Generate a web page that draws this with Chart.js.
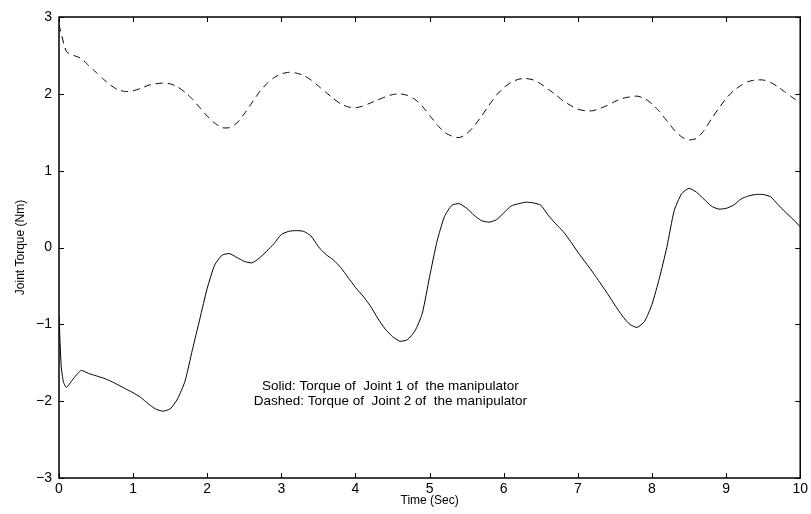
<!DOCTYPE html>
<html>
<head>
<meta charset="utf-8">
<script src="https://cdn.jsdelivr.net/npm/chart.js@4.4.0/dist/chart.umd.min.js"></script>
<style>
    html, body { margin: 0; padding: 0; background: #fff; }
    #wrap { width: 811px; height: 514px; }
</style>
</head>
<body>
<div id="wrap"><canvas id="torqueChart" width="811" height="514"></canvas></div>
<script>
// Joint 1 (solid) - time (s) and torque (Nm)
const timeJoint1 = [0, 0.03, 0.06, 0.1, 0.2, 0.3, 0.4, 0.5, 0.6, 0.7, 0.8, 0.9,
    1.0, 1.1, 1.2, 1.3, 1.4, 1.5, 1.6, 1.7, 1.8, 1.9,
    2.0, 2.1, 2.2, 2.3, 2.4, 2.5, 2.6, 2.7, 2.8, 2.9,
    3.0, 3.1, 3.2, 3.3, 3.4, 3.5, 3.6, 3.7, 3.8, 3.9,
    4.0, 4.1, 4.2, 4.3, 4.4, 4.5, 4.6, 4.7, 4.8, 4.9,
    5.0, 5.1, 5.2, 5.3, 5.4, 5.5, 5.6, 5.7, 5.8, 5.9,
    6.0, 6.1, 6.2, 6.3, 6.4, 6.5, 6.6, 6.7, 6.8, 6.9,
    7.0, 7.1, 7.2, 7.3, 7.4, 7.5, 7.6, 7.7, 7.8, 7.9,
    8.0, 8.1, 8.2, 8.3, 8.4, 8.5, 8.6, 8.7, 8.8, 8.9,
    9.0, 9.1, 9.2, 9.3, 9.4, 9.5, 9.6, 9.7, 9.8, 9.9, 10.0];
const torqueJoint1 = [-0.9, -1.55, -1.75, -1.82, -1.70, -1.60, -1.64, -1.67, -1.70, -1.74, -1.79, -1.84,
    -1.89, -1.95, -2.03, -2.10, -2.13, -2.10, -1.97, -1.74, -1.33, -0.93,
    -0.53, -0.23, -0.10, -0.08, -0.13, -0.18, -0.20, -0.14, -0.05, 0.05,
    0.17, 0.21, 0.22, 0.21, 0.15, 0.01, -0.09, -0.16, -0.26, -0.39,
    -0.52, -0.63, -0.76, -0.92, -1.06, -1.16, -1.22, -1.20, -1.09, -0.86,
    -0.38, 0.08, 0.40, 0.55, 0.57, 0.51, 0.42, 0.35, 0.33, 0.36,
    0.45, 0.54, 0.57, 0.59, 0.58, 0.55, 0.42, 0.31, 0.21, 0.08,
    -0.06, -0.19, -0.32, -0.46, -0.60, -0.75, -0.89, -1.00, -1.04, -0.96,
    -0.74, -0.40, 0.00, 0.48, 0.70, 0.77, 0.72, 0.63, 0.54, 0.50,
    0.51, 0.55, 0.63, 0.67, 0.69, 0.69, 0.66, 0.56, 0.46, 0.37, 0.27];

// Joint 2 (dashed)
const timeJoint2 = [0, 0.1, 0.2, 0.3, 0.4, 0.5, 0.6, 0.7, 0.8, 0.9,
    1.0, 1.1, 1.2, 1.3, 1.4, 1.5, 1.6, 1.7, 1.8, 1.9,
    2.0, 2.1, 2.2, 2.3, 2.4, 2.5, 2.6, 2.7, 2.8, 2.9,
    3.0, 3.1, 3.2, 3.3, 3.4, 3.5, 3.6, 3.7, 3.8, 3.9,
    4.0, 4.1, 4.2, 4.3, 4.4, 4.5, 4.6, 4.7, 4.8, 4.9,
    5.0, 5.1, 5.2, 5.3, 5.4, 5.5, 5.6, 5.7, 5.8, 5.9,
    6.0, 6.1, 6.2, 6.3, 6.4, 6.5, 6.6, 6.7, 6.8, 6.9,
    7.0, 7.1, 7.2, 7.3, 7.4, 7.5, 7.6, 7.7, 7.8, 7.9,
    8.0, 8.1, 8.2, 8.3, 8.4, 8.5, 8.6, 8.7, 8.8, 8.9,
    9.0, 9.1, 9.2, 9.3, 9.4, 9.5, 9.6, 9.7, 9.8, 9.9, 10.0];
const torqueJoint2 = [2.90, 2.55, 2.50, 2.46, 2.37, 2.28, 2.19, 2.11, 2.05, 2.03,
    2.04, 2.07, 2.11, 2.13, 2.14, 2.13, 2.09, 2.02, 1.93, 1.82,
    1.71, 1.62, 1.56, 1.56, 1.62, 1.74, 1.88, 2.02, 2.13, 2.21,
    2.26, 2.28, 2.27, 2.24, 2.18, 2.10, 2.02, 1.94, 1.87, 1.83,
    1.82, 1.84, 1.88, 1.92, 1.96, 1.99, 2.00, 1.98, 1.93, 1.84,
    1.72, 1.60, 1.50, 1.45, 1.43, 1.48, 1.58, 1.71, 1.85, 1.98,
    2.08, 2.15, 2.19, 2.20, 2.18, 2.13, 2.06, 1.99, 1.91, 1.85,
    1.80, 1.78, 1.78, 1.81, 1.85, 1.90, 1.94, 1.96, 1.97, 1.94,
    1.87, 1.77, 1.65, 1.53, 1.44, 1.40, 1.42, 1.52, 1.67, 1.81,
    1.94, 2.04, 2.11, 2.16, 2.18, 2.18, 2.15, 2.09, 2.02, 1.95, 1.88];

// Axis ticks
const xTicks = [0, 1, 2, 3, 4, 5, 6, 7, 8, 9, 10];
const yTicks = [-3, -2, -1, 0, 1, 2, 3];

const noteLines = [
    'Solid: Torque of  Joint 1 of  the manipulator',
    'Dashed: Torque of  Joint 2 of  the manipulator'
];

const fontFamily = '"Liberation Sans", Arial, Helvetica, sans-serif';

function toPoints(xs, ys) {
    return xs.map((x, i) => ({ x: x, y: ys[i] }));
}

function fmtMinus(v) {
    return String(v).replace('-', '\u2212');
}

// box + inward ticks + annotation text, matlab style
const matlabAxes = {
    id: 'matlabAxes',
    afterDatasetsDraw(chart) {
        const { ctx, chartArea: a, scales } = chart;
        const len = 5;
        ctx.save();
        ctx.strokeStyle = '#000';
        ctx.lineWidth = 1;
        ctx.beginPath();
        xTicks.forEach(t => {
            const px = Math.round(scales.x.getPixelForValue(t)) + 0.5;
            ctx.moveTo(px, a.bottom); ctx.lineTo(px, a.bottom - len);
            ctx.moveTo(px, a.top); ctx.lineTo(px, a.top + len);
        });
        yTicks.forEach(t => {
            const py = Math.round(scales.y.getPixelForValue(t)) + 0.5;
            ctx.moveTo(a.left, py); ctx.lineTo(a.left + len, py);
            ctx.moveTo(a.right, py); ctx.lineTo(a.right - len, py);
        });
        ctx.stroke();
        ctx.lineWidth = 1.5;
        ctx.strokeRect(a.left, a.top, a.right - a.left, a.bottom - a.top);

        ctx.fillStyle = '#000';
        ctx.font = '13.5px ' + fontFamily;
        ctx.textAlign = 'center';
        ctx.textBaseline = 'middle';
        const cx = scales.x.getPixelForValue(4.47);
        ctx.fillText(noteLines[0], cx, scales.y.getPixelForValue(-1.80));
        ctx.fillText(noteLines[1], cx, scales.y.getPixelForValue(-2.00));
        ctx.restore();
    }
};

document.addEventListener('DOMContentLoaded', function() {
    const ctx = document.getElementById('torqueChart');

    new Chart(ctx, {
        type: 'line',
        data: {
            datasets: [{
                label: 'Joint 1',
                data: toPoints(timeJoint1, torqueJoint1),
                borderColor: '#000',
                borderWidth: 1,
                pointRadius: 0,
                tension: 0.2
            }, {
                label: 'Joint 2',
                data: toPoints(timeJoint2, torqueJoint2),
                borderColor: '#000',
                borderWidth: 1,
                borderDash: [7, 5],
                pointRadius: 0,
                tension: 0.2
            }]
        },
        options: {
            responsive: false,
            animation: false,
            layout: { padding: { top: 17, right: 9, left: 0, bottom: 0 } },
            plugins: {
                legend: { display: false },
                tooltip: { enabled: false }
            },
            scales: {
                x: {
                    type: 'linear',
                    min: 0,
                    max: 10,
                    afterBuildTicks: s => { s.ticks = xTicks.map(v => ({ value: v })); },
                    afterFit: s => { s.height = 36; },
                    grid: { display: false, drawTicks: false },
                    border: { display: false },
                    ticks: {
                        color: '#000',
                        padding: 3,
                        maxRotation: 0,
                        font: { family: fontFamily, size: 14 },
                        callback: v => fmtMinus(v)
                    },
                    title: {
                        display: true,
                        text: 'Time (Sec)',
                        color: '#000',
                        font: { family: fontFamily, size: 12 },
                        padding: { top: 0, bottom: 6 }
                    }
                },
                y: {
                    min: -3,
                    max: 3,
                    afterBuildTicks: s => { s.ticks = yTicks.map(v => ({ value: v })); },
                    afterFit: s => { s.width = 59; },
                    grid: { display: false, drawTicks: false },
                    border: { display: false },
                    ticks: {
                        color: '#000',
                        padding: 7,
                        font: { family: fontFamily, size: 14 },
                        callback: v => fmtMinus(v)
                    },
                    title: {
                        display: true,
                        text: 'Joint Torque (Nm)',
                        color: '#000',
                        font: { family: fontFamily, size: 12 },
                        padding: { top: 13, bottom: 0 }
                    }
                }
            }
        },
        plugins: [matlabAxes]
    });
});
</script>
</body>
</html>
